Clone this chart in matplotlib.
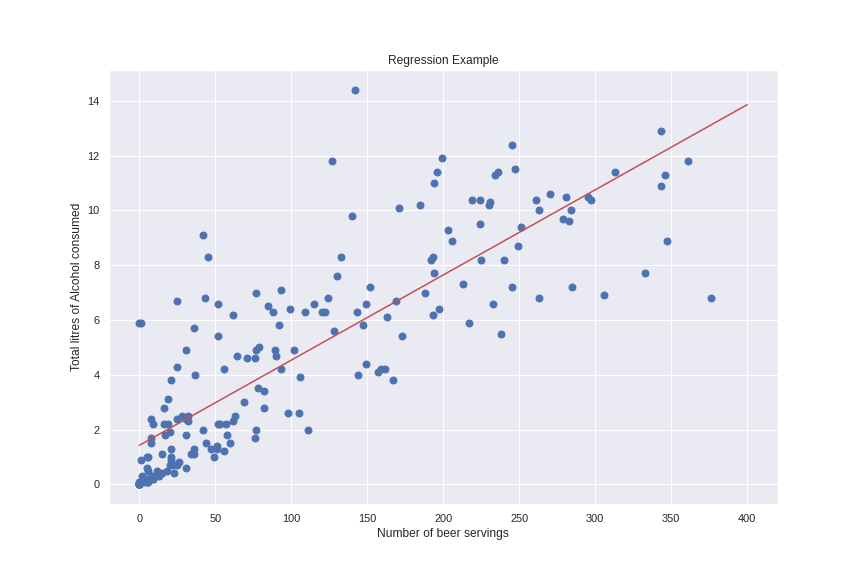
import numpy as np
import matplotlib
matplotlib.use("Agg")
import matplotlib.pyplot as plt
import seaborn as sns

# beer servings vs total litres of pure alcohol, one point per country
beer_servings = [
    0, 89, 25, 245, 217, 102, 193, 21, 261, 279, 21, 122, 42, 0, 143, 142,
    295, 263, 34, 23, 167, 76, 173, 245, 31, 231, 25, 88, 37, 144, 57, 147,
    240, 17, 15, 130, 79, 159, 1, 76, 0, 149, 230, 93, 192, 361, 0, 32, 224,
    15, 52, 193, 162, 6, 52, 92, 18, 224, 20, 77, 263, 127, 347, 8, 52, 346,
    31, 133, 199, 53, 9, 28, 93, 1, 69, 234, 233, 9, 5, 0, 9, 313, 63, 85,
    82, 77, 6, 124, 58, 21, 0, 31, 62, 281, 20, 82, 19, 0, 343, 236, 26, 8,
    13, 0, 5, 149, 0, 0, 98, 238, 62, 77, 31, 12, 47, 5, 376, 49, 5, 251,
    203, 78, 3, 42, 188, 169, 22, 0, 306, 285, 44, 213, 163, 71, 343, 194,
    1, 140, 109, 297, 247, 43, 194, 171, 120, 105, 0, 56, 0, 9, 283, 157,
    25, 60, 196, 270, 56, 0, 225, 284, 16, 8, 128, 90, 152, 185, 5, 2, 99,
    106, 1, 36, 36, 197, 51, 51, 19, 6, 45, 206, 16, 219, 36, 249, 115, 25,
    21, 333, 111, 6, 32, 64,
]
total_litres = [
    0.0, 4.9, 0.7, 12.4, 5.9, 4.9, 8.3, 3.8, 10.4, 9.7, 1.3, 6.3, 2.0, 0.0,
    6.3, 14.4, 10.5, 6.8, 1.1, 0.4, 3.8, 4.6, 5.4, 7.2, 0.6, 10.3, 4.3, 6.3,
    4.0, 4.0, 2.2, 5.8, 8.2, 1.8, 0.4, 7.6, 5.0, 4.2, 0.1, 1.7, 5.9, 4.4,
    10.2, 4.2, 8.2, 11.8, 0.0, 2.3, 10.4, 1.1, 6.6, 6.2, 4.2, 0.2, 2.2, 5.8,
    0.5, 9.5, 0.7, 2.0, 10.0, 11.8, 8.9, 2.4, 5.4, 11.3, 1.8, 8.3, 11.9, 2.2,
    0.2, 2.5, 7.1, 5.9, 3.0, 11.3, 6.6, 2.2, 0.1, 0.0, 0.2, 11.4, 2.5, 6.5,
    3.4, 7.0, 0.5, 6.8, 1.8, 1.0, 0.0, 2.4, 6.2, 10.5, 1.9, 2.8, 3.1, 0.0,
    12.9, 11.4, 0.8, 1.5, 0.3, 0.0, 0.6, 6.6, 0.0, 0.0, 2.6, 5.5, 2.3, 4.9,
    4.9, 0.5, 1.3, 0.1, 6.8, 1.0, 0.2, 9.4, 9.3, 3.5, 0.1, 9.1, 7.0, 6.7,
    0.7, 0.0, 6.9, 7.2, 1.5, 7.3, 6.1, 4.6, 10.9, 11.0, 0.9, 9.8, 6.3, 10.4,
    11.5, 6.8, 7.7, 10.1, 6.3, 2.6, 0.0, 4.2, 0.1, 0.3, 9.6, 4.1, 6.7, 1.5,
    11.4, 10.6, 1.2, 0.0, 8.2, 10.0, 2.2, 1.7, 5.6, 4.7, 7.2, 10.2, 1.0, 0.3,
    6.4, 3.9, 0.1, 1.3, 1.1, 6.4, 1.3, 1.4, 2.2, 1.0, 8.3, 8.9, 2.8, 10.4,
    5.7, 8.7, 6.6, 2.4, 0.9, 7.7, 2.0, 0.1, 2.5, 4.7,
]

# least squares fit, drawn over 0..400 servings
slope, intercept = np.polyfit(beer_servings, total_litres, 1)
line_x = np.array([0, 400])

sns.set()
plt.rcParams['font.family'] = ['Liberation Sans', 'DejaVu Sans']

plt.figure(figsize=(12, 8))
plt.subplots_adjust(left=0.126, right=0.9, top=0.878, bottom=0.125)
plt.scatter(beer_servings, total_litres, color='#4C72B0', s=48)
plt.plot(line_x, intercept + slope * line_x, color='#C44E52', lw=1.5)
plt.xlabel('Number of beer servings')
plt.ylabel('Total litres of Alcohol consumed')
plt.title('Regression Example')
plt.savefig("out.png", dpi=72)
